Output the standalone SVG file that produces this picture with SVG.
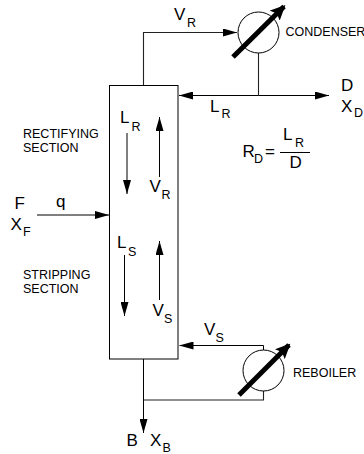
<svg xmlns="http://www.w3.org/2000/svg" width="364" height="454" viewBox="0 0 364 454">
<style>
text{font-family:"Liberation Sans",Arial,sans-serif;fill:#000}
.b{font-size:17px}
.s{font-size:12.5px}
.l{font-size:12.5px}
.c{fill:none;stroke:#000;stroke-width:1}
.g{fill:none;stroke:#222;stroke-width:1.1}
.t{fill:none;stroke:#000;stroke-width:5}
.n{fill:#fff;stroke:#000;stroke-width:1}
</style>
<defs>
<marker id="a" markerUnits="userSpaceOnUse" markerWidth="14" markerHeight="8" refX="14" refY="4" orient="auto"><path d="M0 0L14 4L0 8z" fill="#000"/></marker>
<marker id="h" markerUnits="userSpaceOnUse" markerWidth="15" markerHeight="14" refX="13" refY="7" orient="auto"><path d="M0 0L15 7L0 14L3 7z" fill="#000"/></marker>
</defs>
<g id="connectors">
<path class="g" d="M143.500 85.500V32.500H237" marker-end="url(#a)"/>
<path class="g" d="M258.500 53V95.500"/>
<path class="c" d="M258.500 95.500H179" marker-end="url(#a)"/>
<path class="c" d="M258.500 95.500H329" marker-end="url(#a)"/>
<path class="c" d="M37 215H109" marker-end="url(#a)"/>
<path class="c" d="M127 133V194" marker-end="url(#a)"/>
<path class="c" d="M159.500 177V117" marker-end="url(#a)"/>
<path class="c" d="M124.500 255V316" marker-end="url(#a)"/>
<path class="c" d="M159.500 300V241" marker-end="url(#a)"/>
<path class="c" d="M263.500 350V345.500H179.500" marker-end="url(#a)"/>
<path class="g" d="M263.500 390.500V400H143.500"/>
<path class="c" d="M143.500 359V433" marker-end="url(#a)"/>
</g>
<g id="column"><rect class="n" x="109.500" y="85.500" width="68.500" height="273.500" fill-opacity="0"/></g>
<g id="condenser">
<circle class="n" cx="258.500" cy="32.500" r="20.500"/>
<path class="t" d="M233 57L284 6.500" marker-end="url(#h)"/>
<text class="l" x="285.500" y="35.500">CONDENSER</text>
</g>
<g id="reboiler">
<circle class="n" cx="263.500" cy="370.500" r="20.500"/>
<path class="t" d="M239 395L289 345" marker-end="url(#h)"/>
<text class="l" x="293" y="377">REBOILER</text>
</g>
<g id="labels">
<text class="b" x="174" y="20">V</text><text class="s" x="187" y="27">R</text>
<text class="b" x="210" y="112">L</text><text class="s" x="221.500" y="118">R</text>
<text class="b" x="341" y="91">D</text>
<text class="b" x="341" y="112">X</text><text class="s" x="354" y="117">D</text>
<text class="b" x="242.500" y="157">R</text><text class="s" x="254" y="163">D</text><text class="b" x="265" y="157">=</text>
<text class="b" x="283" y="140">L</text><text class="s" x="295" y="147">R</text>
<path class="c" d="M280 152.500H310"/>
<text class="b" x="289.500" y="168">D</text>
<text class="l" x="23" y="137.500">RECTIFYING</text>
<text class="l" x="23" y="152">SECTION</text>
<text class="l" x="23" y="278.500">STRIPPING</text>
<text class="l" x="23" y="293">SECTION</text>
<text class="b" x="14.500" y="209">F</text>
<text class="b" x="10.500" y="229.500">X</text><text class="s" x="23" y="236">F</text>
<text class="b" x="56" y="207">q</text>
<text class="b" x="120" y="123">L</text><text class="s" x="131.500" y="131">R</text>
<text class="b" x="149.500" y="192">V</text><text class="s" x="161.500" y="199">R</text>
<text class="b" x="117" y="248">L</text><text class="s" x="128" y="255.500">S</text>
<text class="b" x="152.500" y="316">V</text><text class="s" x="164" y="323">S</text>
<text class="b" x="204" y="335">V</text><text class="s" x="215.500" y="342">S</text>
<text class="b" x="126.500" y="445.500">B</text>
<text class="b" x="150" y="445.500">X</text><text class="s" x="162.500" y="452">B</text>
</g>
</svg>
